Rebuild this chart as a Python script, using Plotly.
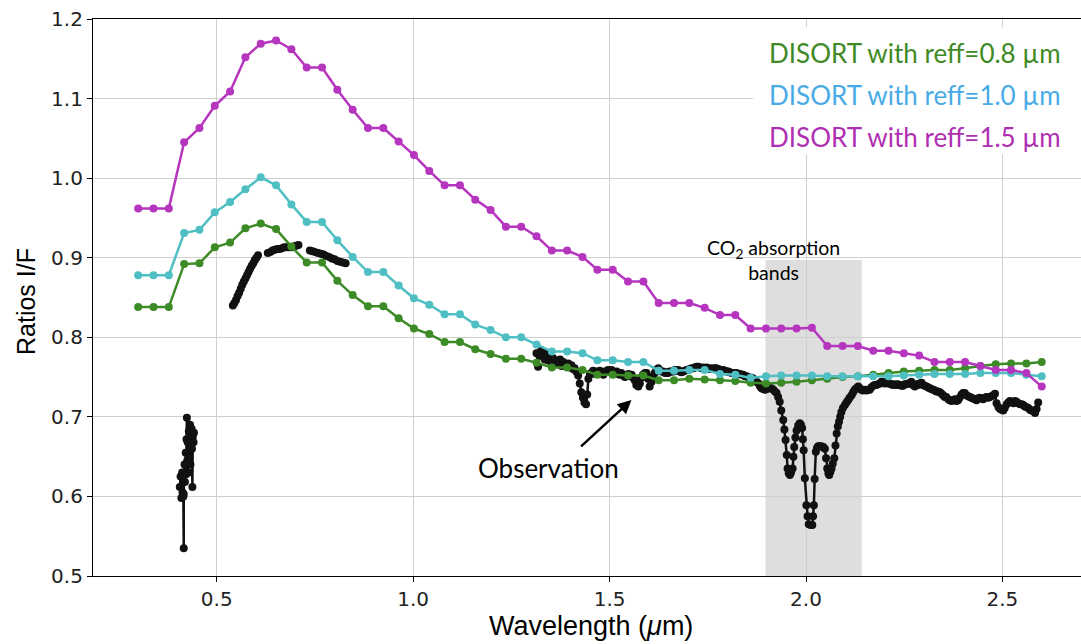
import plotly.graph_objects as go

# ---------------- data ----------------
wavelength_model = [0.300, 0.339, 0.378, 0.417, 0.456, 0.495, 0.534, 0.573, 0.612, 0.651,
                    0.690, 0.729, 0.768, 0.807, 0.846, 0.885, 0.924, 0.963, 1.002, 1.041,
                    1.080, 1.119, 1.158, 1.197, 1.236, 1.275, 1.314, 1.353, 1.392, 1.431,
                    1.469, 1.508, 1.547, 1.586, 1.625, 1.664, 1.703, 1.742, 1.781, 1.820,
                    1.859, 1.898, 1.937, 1.976, 2.015, 2.054, 2.093, 2.132, 2.171, 2.210,
                    2.249, 2.288, 2.327, 2.366, 2.405, 2.444, 2.483, 2.522, 2.561, 2.600]

reff_08 = [0.838, 0.838, 0.838, 0.892, 0.893, 0.913, 0.919, 0.937, 0.943, 0.936,
           0.914, 0.894, 0.894, 0.871, 0.853, 0.839, 0.839, 0.824, 0.811, 0.804,
           0.794, 0.794, 0.785, 0.779, 0.773, 0.773, 0.768, 0.762, 0.762, 0.759,
           0.753, 0.753, 0.752, 0.752, 0.746, 0.746, 0.748, 0.747, 0.746, 0.745,
           0.743, 0.742, 0.743, 0.744, 0.746, 0.748, 0.750, 0.751, 0.753, 0.755,
           0.757, 0.758, 0.759, 0.759, 0.761, 0.764, 0.766, 0.767, 0.767, 0.769]

reff_10 = [0.878, 0.878, 0.878, 0.931, 0.935, 0.957, 0.970, 0.986, 1.001, 0.991,
           0.967, 0.945, 0.945, 0.922, 0.901, 0.882, 0.882, 0.865, 0.849, 0.841,
           0.829, 0.829, 0.816, 0.809, 0.800, 0.800, 0.791, 0.782, 0.782, 0.780,
           0.771, 0.771, 0.769, 0.769, 0.758, 0.758, 0.759, 0.759, 0.754, 0.753,
           0.749, 0.751, 0.752, 0.752, 0.752, 0.751, 0.751, 0.751, 0.751, 0.751,
           0.752, 0.753, 0.754, 0.754, 0.754, 0.755, 0.755, 0.755, 0.753, 0.751]

reff_15 = [0.962, 0.962, 0.962, 1.045, 1.063, 1.091, 1.109, 1.152, 1.169, 1.173,
           1.162, 1.139, 1.139, 1.111, 1.086, 1.063, 1.063, 1.046, 1.029, 1.009,
           0.991, 0.991, 0.973, 0.960, 0.939, 0.939, 0.927, 0.909, 0.909, 0.901,
           0.885, 0.885, 0.870, 0.870, 0.843, 0.843, 0.843, 0.837, 0.828, 0.828,
           0.811, 0.811, 0.811, 0.811, 0.812, 0.789, 0.789, 0.789, 0.783, 0.783,
           0.780, 0.777, 0.769, 0.769, 0.769, 0.764, 0.759, 0.759, 0.755, 0.738]

# observation, visible band 1 (around 0.42 um)
obs1_wl = [0.406, 0.408, 0.410, 0.412, 0.413, 0.415, 0.416, 0.416, 0.418, 0.419,
           0.421, 0.422, 0.423, 0.424, 0.425, 0.426, 0.428, 0.429, 0.430, 0.432,
           0.433, 0.434, 0.436, 0.437, 0.438, 0.439, 0.441, 0.442]
obs1_val = [0.612, 0.625, 0.598, 0.630, 0.605, 0.600, 0.535, 0.603, 0.640, 0.618,
            0.655, 0.628, 0.672, 0.699, 0.645, 0.668, 0.630, 0.682, 0.650, 0.690,
            0.640, 0.672, 0.685, 0.660, 0.612, 0.675, 0.668, 0.680]

# observation, visible band 2 (three pieces)
obs2a_wl = [0.541, 0.545, 0.549, 0.553, 0.557, 0.561, 0.565, 0.569, 0.573, 0.577,
            0.581, 0.585, 0.589, 0.593, 0.597, 0.601, 0.605]
obs2a_val = [0.840, 0.843, 0.847, 0.852, 0.856, 0.861, 0.866, 0.870, 0.874, 0.878,
             0.882, 0.886, 0.890, 0.893, 0.897, 0.900, 0.903]
obs2b_wl = [0.630, 0.636, 0.642, 0.648, 0.654, 0.660, 0.666, 0.672, 0.678, 0.684,
            0.690, 0.696, 0.702, 0.708]
obs2b_val = [0.906, 0.907, 0.909, 0.910, 0.911, 0.911, 0.912, 0.913, 0.913, 0.913,
             0.913, 0.914, 0.915, 0.916]
obs2c_wl = [0.737, 0.744, 0.751, 0.758, 0.765, 0.772, 0.779, 0.786, 0.793, 0.800,
            0.807, 0.814, 0.821, 0.828]
obs2c_val = [0.909, 0.908, 0.907, 0.906, 0.905, 0.904, 0.902, 0.901, 0.899, 0.898,
             0.896, 0.895, 0.894, 0.893]

# observation, near infrared (1.31 - 2.59 um)
obs3_wl = [1.314, 1.318, 1.322, 1.326, 1.331, 1.335, 1.339, 1.343, 1.348, 1.352,
           1.356, 1.361, 1.365, 1.369, 1.374, 1.378, 1.382, 1.386, 1.390, 1.395,
           1.399, 1.403, 1.407, 1.411, 1.415, 1.420, 1.424, 1.428, 1.432, 1.436,
           1.440, 1.443, 1.446, 1.450, 1.454, 1.458, 1.462, 1.467, 1.471, 1.475,
           1.479, 1.484, 1.488, 1.492, 1.496, 1.501, 1.505, 1.509, 1.513, 1.518,
           1.522, 1.526, 1.530, 1.535, 1.539, 1.543, 1.548, 1.552, 1.556, 1.560,
           1.564, 1.568, 1.573, 1.577, 1.581, 1.585, 1.590, 1.594, 1.598, 1.602,
           1.607, 1.611, 1.615, 1.619, 1.624, 1.628, 1.632, 1.636, 1.641, 1.645,
           1.649, 1.653, 1.658, 1.662, 1.666, 1.670, 1.675, 1.679, 1.683, 1.687,
           1.692, 1.696, 1.700, 1.704, 1.709, 1.713, 1.717, 1.721, 1.726, 1.730,
           1.734, 1.738, 1.743, 1.747, 1.751, 1.755, 1.760, 1.764, 1.768, 1.772,
           1.777, 1.781, 1.785, 1.789, 1.794, 1.798, 1.802, 1.806, 1.811, 1.815,
           1.819, 1.823, 1.828, 1.832, 1.836, 1.840, 1.845, 1.849, 1.853, 1.857,
           1.862, 1.866, 1.870, 1.874, 1.879, 1.883, 1.887, 1.891, 1.896, 1.900,
           1.904, 1.908, 1.912, 1.917, 1.921, 1.925, 1.929, 1.933, 1.937, 1.942,
           1.945, 1.948, 1.951, 1.953, 1.956, 1.959, 1.962, 1.966, 1.968, 1.970,
           1.973, 1.976, 1.980, 1.984, 1.987, 1.990, 1.992, 1.994, 1.997, 2.001,
           2.004, 2.007, 2.012, 2.016, 2.018, 2.020, 2.022, 2.025, 2.028, 2.031,
           2.035, 2.039, 2.044, 2.048, 2.051, 2.054, 2.057, 2.059, 2.062, 2.065,
           2.068, 2.072, 2.075, 2.078, 2.081, 2.084, 2.087, 2.090, 2.094, 2.099,
           2.103, 2.107, 2.111, 2.116, 2.120, 2.124, 2.128, 2.133, 2.137, 2.141,
           2.145, 2.150, 2.154, 2.158, 2.162, 2.166, 2.171, 2.175, 2.179, 2.183,
           2.188, 2.192, 2.196, 2.200, 2.205, 2.209, 2.213, 2.217, 2.221, 2.226,
           2.230, 2.234, 2.238, 2.243, 2.247, 2.251, 2.255, 2.260, 2.264, 2.268,
           2.272, 2.277, 2.281, 2.285, 2.289, 2.294, 2.298, 2.302, 2.307, 2.311,
           2.315, 2.319, 2.324, 2.328, 2.332, 2.336, 2.341, 2.345, 2.349, 2.353,
           2.357, 2.362, 2.366, 2.370, 2.374, 2.379, 2.383, 2.387, 2.391, 2.396,
           2.400, 2.404, 2.408, 2.413, 2.417, 2.421, 2.425, 2.430, 2.434, 2.438,
           2.442, 2.447, 2.451, 2.455, 2.459, 2.464, 2.468, 2.472, 2.477, 2.481,
           2.485, 2.490, 2.494, 2.498, 2.502, 2.506, 2.511, 2.515, 2.519, 2.523,
           2.528, 2.532, 2.536, 2.540, 2.545, 2.549, 2.553, 2.557, 2.562, 2.566,
           2.570, 2.574, 2.579, 2.583, 2.587, 2.591]
obs3_val = [0.780, 0.763, 0.778, 0.784, 0.776, 0.772, 0.780, 0.771, 0.776, 0.768,
            0.774, 0.770, 0.766, 0.768, 0.772, 0.764, 0.769, 0.765, 0.763, 0.767,
            0.762, 0.765, 0.760, 0.761, 0.757, 0.752, 0.742, 0.731, 0.724, 0.718,
            0.716, 0.728, 0.748, 0.754, 0.755, 0.758, 0.754, 0.757, 0.755, 0.758,
            0.755, 0.753, 0.757, 0.757, 0.759, 0.756, 0.759, 0.757, 0.754, 0.757,
            0.755, 0.753, 0.755, 0.752, 0.750, 0.751, 0.754, 0.751, 0.753, 0.749,
            0.746, 0.740, 0.738, 0.742, 0.749, 0.753, 0.755, 0.755, 0.748, 0.738,
            0.744, 0.751, 0.755, 0.759, 0.761, 0.758, 0.757, 0.757, 0.755, 0.756,
            0.755, 0.757, 0.757, 0.757, 0.759, 0.758, 0.759, 0.757, 0.756, 0.757,
            0.758, 0.759, 0.759, 0.760, 0.761, 0.761, 0.762, 0.763, 0.763, 0.762,
            0.761, 0.762, 0.761, 0.762, 0.761, 0.760, 0.761, 0.760, 0.761, 0.761,
            0.760, 0.759, 0.759, 0.759, 0.758, 0.757, 0.757, 0.756, 0.755, 0.755,
            0.755, 0.755, 0.754, 0.754, 0.753, 0.753, 0.751, 0.751, 0.750, 0.749,
            0.749, 0.748, 0.746, 0.744, 0.742, 0.738, 0.736, 0.735, 0.734, 0.735,
            0.736, 0.736, 0.736, 0.734, 0.732, 0.730, 0.725, 0.719, 0.708, 0.696,
            0.684, 0.671, 0.652, 0.635, 0.629, 0.627, 0.630, 0.635, 0.650, 0.662,
            0.674, 0.683, 0.689, 0.692, 0.690, 0.686, 0.672, 0.658, 0.623, 0.589,
            0.575, 0.565, 0.564, 0.564, 0.575, 0.589, 0.622, 0.656, 0.661, 0.663,
            0.663, 0.663, 0.662, 0.660, 0.648, 0.635, 0.629, 0.627, 0.631, 0.635,
            0.641, 0.648, 0.664, 0.679, 0.688, 0.694, 0.700, 0.706, 0.711, 0.715,
            0.718, 0.721, 0.724, 0.727, 0.731, 0.734, 0.736, 0.738, 0.736, 0.734,
            0.733, 0.734, 0.733, 0.734, 0.734, 0.737, 0.739, 0.740, 0.740, 0.741,
            0.742, 0.744, 0.744, 0.742, 0.743, 0.742, 0.742, 0.741, 0.740, 0.741,
            0.740, 0.741, 0.740, 0.739, 0.739, 0.741, 0.741, 0.742, 0.742, 0.744,
            0.740, 0.738, 0.741, 0.740, 0.742, 0.743, 0.740, 0.739, 0.738, 0.737,
            0.736, 0.735, 0.734, 0.733, 0.732, 0.732, 0.731, 0.729, 0.727, 0.725,
            0.725, 0.722, 0.721, 0.720, 0.721, 0.722, 0.720, 0.721, 0.724, 0.728,
            0.730, 0.730, 0.727, 0.726, 0.725, 0.724, 0.723, 0.722, 0.721, 0.723,
            0.724, 0.723, 0.722, 0.724, 0.725, 0.724, 0.725, 0.726, 0.727, 0.729,
            0.717, 0.712, 0.710, 0.709, 0.708, 0.711, 0.716, 0.718, 0.720, 0.719,
            0.717, 0.720, 0.719, 0.717, 0.716, 0.716, 0.715, 0.713, 0.712, 0.711,
            0.709, 0.708, 0.707, 0.705, 0.710, 0.718]

co2_band = [1.897, 2.142]
co2_band_top = 0.897

legend_labels = ["DISORT with reff=0.8 µm", "DISORT with reff=1.0 µm", "DISORT with reff=1.5 µm"]
x_ticks = [0.5, 1.0, 1.5, 2.0, 2.5]
y_ticks = [0.5, 0.6, 0.7, 0.8, 0.9, 1.0, 1.1, 1.2]

# ---------------- styling ----------------
GREEN_LINE = "#3d8b27"
CYAN_LINE = "#4fbfc4"
MAGENTA_LINE = "#b535be"
GREEN_TXT = "#3f8a25"
BLUE_TXT = "#49abe6"
MAGENTA_TXT = "#af2fb3"
ANNOT_FONT = "Lato"

fig = go.Figure()

# observation (drawn first, underneath the models)
obs_x = obs1_wl + [None] + obs2a_wl + [None] + obs2b_wl + [None] + obs2c_wl + [None] + obs3_wl
obs_y = obs1_val + [None] + obs2a_val + [None] + obs2b_val + [None] + obs2c_val + [None] + obs3_val
fig.add_trace(go.Scatter(x=obs_x, y=obs_y, mode="lines+markers",
                         line=dict(color="#111111", width=2.5),
                         marker=dict(color="#111111", size=8),
                         connectgaps=False, showlegend=False, hoverinfo="skip"))

for vals, col in [(reff_08, GREEN_LINE), (reff_10, CYAN_LINE), (reff_15, MAGENTA_LINE)]:
    fig.add_trace(go.Scatter(x=wavelength_model, y=vals, mode="lines+markers",
                             line=dict(color=col, width=2.5),
                             marker=dict(color=col, size=8),
                             showlegend=False, hoverinfo="skip"))

# CO2 band
fig.add_shape(type="rect", xref="x", yref="y", x0=co2_band[0], x1=co2_band[1],
              y0=0.5, y1=co2_band_top, fillcolor="#dedede", line=dict(width=0),
              layer="below")

# white box behind the legend text
fig.add_shape(type="rect", xref="paper", yref="paper", x0=0.668, x1=1.0,
              y0=0.757, y1=0.985, fillcolor="white", line=dict(width=0),
              layer="above")

# legend text
for lab, col, ypx in zip(legend_labels, [GREEN_TXT, BLUE_TXT, MAGENTA_TXT], [53, 95, 137]):
    fig.add_annotation(xref="paper", yref="paper", x=(1063 - 93) / 988,
                       y=(576 - ypx) / 557, text=lab, showarrow=False,
                       xanchor="right", yanchor="middle",
                       font=dict(family=ANNOT_FONT, size=26, color=col))

# CO2 text
fig.add_annotation(xref="x", yref="y", x=1.917, y=1.2 - (260 - 19) / 795.7,
                   text="CO<sub>2</sub> absorption<br>bands", showarrow=False,
                   xanchor="center", yanchor="middle", align="center",
                   font=dict(family=ANNOT_FONT, size=19.5, color="black"))

# Observation label and arrow
fig.add_annotation(xref="x", yref="y", x=1.3435, y=0.6353, text="Observation",
                   showarrow=False, xanchor="center", yanchor="middle",
                   font=dict(family=ANNOT_FONT, size=26, color="black"))
fig.add_annotation(xref="x", yref="y", x=1.5557, y=0.7212, ax=1.4224, ay=0.6605,
                   axref="x", ayref="y", text=" ", showarrow=True, arrowhead=2,
                   arrowsize=1.1, arrowwidth=2.5, arrowcolor="black", standoff=0,
                   font=dict(size=2))

# axis titles
fig.add_annotation(xref="paper", yref="paper", x=(590.5 - 93) / 988, y=(576 - 626) / 557,
                   text="Wavelength (<i>μ</i>m)", showarrow=False,
                   xanchor="center", yanchor="middle",
                   font=dict(family="Liberation Sans", size=27, color="black"))
fig.add_annotation(xref="paper", yref="paper", x=(26 - 93) / 988, y=(576 - 302) / 557,
                   text="Ratios I/F", showarrow=False, textangle=-90,
                   xanchor="center", yanchor="middle",
                   font=dict(family="Liberation Sans", size=25, color="black"))

fig.update_layout(
    width=1081, height=644,
    margin=dict(l=93, r=0, t=19, b=68),
    paper_bgcolor="white", plot_bgcolor="white",
    showlegend=False,
    xaxis=dict(range=[0.185, 2.70], tickvals=x_ticks,
               ticktext=[f"{v:.1f}" for v in x_ticks],
               showgrid=True, gridcolor="#cfcfcf", gridwidth=1.2,
               zeroline=False, showline=True, linecolor="black", linewidth=1.2,
               mirror=True, ticks="outside", ticklen=5, tickcolor="black",
               tickfont=dict(family="DejaVu Sans", size=20, color="#222")),
    yaxis=dict(range=[0.5, 1.2], tickvals=y_ticks,
               ticktext=[f"{v:.1f}" for v in y_ticks],
               showgrid=True, gridcolor="#cfcfcf", gridwidth=1.2,
               zeroline=False, showline=True, linecolor="black", linewidth=1.2,
               mirror=False, ticks="outside", ticklen=5, tickcolor="black",
               tickfont=dict(family="DejaVu Sans", size=20, color="#222")),
)

fig.write_html("out.html", config={"displayModeBar": False},
               post_script="document.body.style.margin='0';document.body.style.overflow='hidden';")
